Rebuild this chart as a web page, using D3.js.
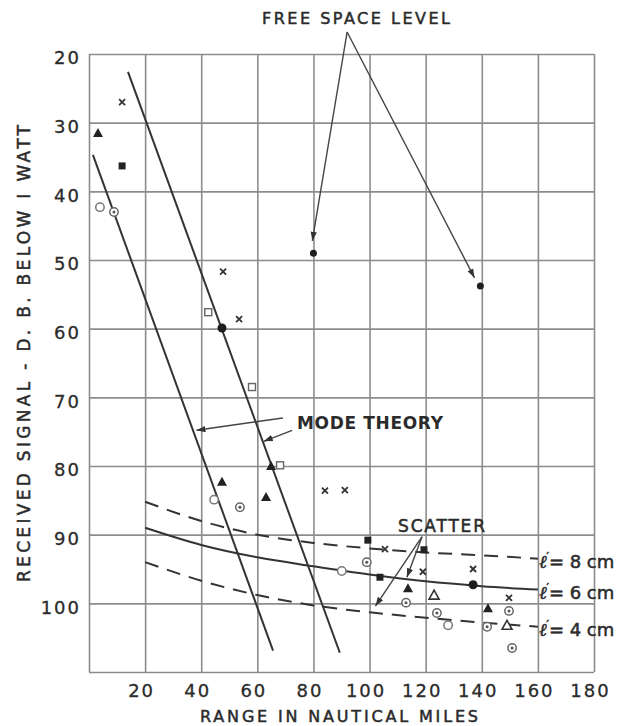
<!DOCTYPE html>
<html>
<head>
<meta charset="utf-8">
<script src="https://cdn.jsdelivr.net/npm/d3@7"></script>
<style>
  html, body { margin: 0; padding: 0; background: #fff; }
  svg { display: block; }
  text { font-family: "DejaVu Sans", sans-serif; fill: #2b2b2b; }
</style>
</head>
<body>
<svg id="chart" width="619" height="726"></svg>
<script>
// ---------- data ----------
const xTicks = [20, 40, 60, 80, 100, 120, 140, 160, 180];
const yTicks = [20, 30, 40, 50, 60, 70, 80, 90, 100];
const xGrid = [0, 20, 40, 60, 80, 100, 120, 140, 160, 180];
const yGrid = [20, 30, 40, 50, 60, 70, 80, 90, 100, 110];

// Mode theory lines (range, dB)
const modeTheoryA = [[1.4, 34.7], [65.6, 106.9]];
const modeTheoryB = [[13.9, 22.6], [89.4, 107.2]];

// Scatter curves
const scatterRange = [20, 40, 60, 80, 100, 120, 140, 160];
const scatter8cm = [85.2, 88.0, 90.0, 91.2, 92.0, 92.6, 93.0, 93.5];
const scatter6cm = [89.0, 91.5, 93.3, 94.6, 95.8, 96.8, 97.5, 98.0];
const scatter4cm = [94.0, 96.7, 98.8, 100.3, 101.3, 102.1, 102.8, 103.4];

// Measured points by symbol
const crossPts = [[11.8, 27.0], [47.8, 51.7], [53.5, 58.6], [84.1, 83.6], [91.2, 83.5], [105.5, 92.1], [119.0, 95.4], [136.9, 95.0], [149.7, 99.2]];
const filledTrianglePts = [[3.2, 31.5], [64.9, 80.0], [47.4, 82.3], [63.1, 84.5], [113.7, 97.8], [142.2, 100.7]];
const openTrianglePts = [[123.0, 98.8], [149.0, 103.2]];
const openCirclePts = [[3.9, 42.3], [44.6, 84.9], [90.1, 95.3], [128.0, 103.2]];
const dotCirclePts = [[8.9, 43.0], [53.8, 86.0], [99.0, 94.0], [113.0, 99.9], [124.0, 101.4], [141.9, 103.4], [150.8, 106.5], [149.7, 101.1]];
const openSquarePts = [[42.5, 57.6], [58.1, 68.5], [68.1, 79.9]];
const filledSquarePts = [[11.8, 36.3], [99.4, 90.8], [103.7, 96.2], [119.4, 92.2]];
const filledCirclePts = [[47.4, 59.9], [136.9, 97.3]];
const freeSpacePts = [[80, 49.0], [139.5, 53.8]];

// Annotations (data coordinates)
const freeSpaceArrows = [[[92.0, 16.8], [79.6, 47.2]], [[92.0, 16.8], [137.4, 52.6]]];
const modeArrows = [[[69.1, 73.0], [38.3, 74.8]], [[72.4, 74.8], [62.3, 76.4]]];
const scatterArrows = [[[118.7, 90.3], [102.1, 100.4]], [[118.7, 90.3], [113.3, 96.2]]];
const curveLabels = ["= 8 cm", "= 6 cm", "= 4 cm"];

// ---------- drawing ----------
const svg = d3.select("#chart");
const x = d3.scaleLinear().domain([0, 180]).range([89, 594]);
const y = d3.scaleLinear().domain([20, 110]).range([54, 672]);
const ink = "#333";
const gridC = "#8c8c8c";

const defs = svg.append("defs");
defs.append("marker").attr("id", "arr").attr("viewBox", "0 0 10 10")
  .attr("refX", 10).attr("refY", 5).attr("markerWidth", 9).attr("markerHeight", 9)
  .attr("markerUnits", "userSpaceOnUse").attr("orient", "auto")
  .append("path").attr("d", "M0,1.5 L10,5 L0,8.5 Z").attr("fill", "#333");

// grid
const gx = svg.append("g").attr("transform", `translate(0,${y(110)})`)
  .call(d3.axisBottom(x).tickValues(xGrid).tickSize(-(y(110) - y(20))).tickFormat(""));
const gy = svg.append("g").attr("transform", `translate(${x(0)},0)`)
  .call(d3.axisLeft(y).tickValues(yGrid).tickSize(-(x(180) - x(0))).tickFormat(""));
[gx, gy].forEach(g => {
  g.select(".domain").remove();
  g.selectAll("line").attr("stroke", gridC).attr("stroke-width", 1.6);
});

// tick labels
const ax = svg.append("g").attr("transform", `translate(0,${y(110)})`)
  .call(d3.axisBottom(x).tickValues(xTicks).tickSize(0).tickPadding(0));
ax.select(".domain").remove();
ax.selectAll("text").attr("font-size", 18).attr("letter-spacing", 2)
  .attr("dy", 0).attr("y", 25).attr("dx", -4).attr("fill", "#2b2b2b")
  .attr("stroke", "#2b2b2b").attr("stroke-width", 0.3)
  .attr("font-family", "DejaVu Sans, sans-serif");

const ay = svg.append("g").attr("transform", `translate(${x(0)},0)`)
  .call(d3.axisLeft(y).tickValues(yTicks).tickSize(0).tickPadding(8));
ay.select(".domain").remove();
ay.selectAll("text").attr("font-size", 18).attr("letter-spacing", 2)
  .attr("dy", "0.55em").attr("fill", "#2b2b2b")
  .attr("stroke", "#2b2b2b").attr("stroke-width", 0.3)
  .attr("font-family", "DejaVu Sans, sans-serif");

const heavy = sel => sel.attr("stroke", "#2b2b2b").attr("stroke-width", 0.5);

// axis titles
heavy(svg.append("text").attr("x", 200).attr("y", 722).attr("font-size", 16)
  .attr("textLength", 278).attr("lengthAdjust", "spacing")
  .text("RANGE IN NAUTICAL MILES"));
heavy(svg.append("text").attr("transform", "translate(30,582) rotate(-90)")
  .attr("font-size", 17).attr("textLength", 457).attr("lengthAdjust", "spacing")
  .text("RECEIVED SIGNAL - D. B. BELOW I WATT"));

// mode theory lines
const line = d3.line().x(d => x(d[0])).y(d => y(d[1]));
[modeTheoryA, modeTheoryB].forEach(d => {
  svg.append("path").attr("d", line(d)).attr("fill", "none")
    .attr("stroke", ink).attr("stroke-width", 2);
});

// scatter curves
const curve = d3.line().x(d => x(d[0])).y(d => y(d[1])).curve(d3.curveMonotoneX);
const sets = [
  { v: scatter8cm, dash: "14,9" },
  { v: scatter6cm, dash: null },
  { v: scatter4cm, dash: "14,9" }
];
sets.forEach((s, i) => {
  const pts = scatterRange.map((r, j) => [r, s.v[j]]);
  const p = svg.append("path").attr("d", curve(pts)).attr("fill", "none")
    .attr("stroke", ink).attr("stroke-width", 2);
  if (s.dash) p.attr("stroke-dasharray", s.dash);
  const t = svg.append("text").attr("x", x(160) + 1)
    .attr("y", y(s.v[s.v.length - 1]) + 9)
    .attr("font-size", 18);
  heavy(t);
  t.append("tspan").attr("font-style", "italic").attr("font-family", "DejaVu Serif, serif").text("\u2113");
  t.append("tspan").attr("font-size", 11).attr("dy", -8).text("\u2032");
  t.append("tspan").attr("dy", 8).text(curveLabels[i]);
});

// arrows
[...freeSpaceArrows, ...modeArrows, ...scatterArrows].forEach(a => {
  svg.append("path").attr("d", line(a)).attr("fill", "none")
    .attr("stroke", "#444").attr("stroke-width", 1.4).attr("marker-end", "url(#arr)");
});

// annotation texts
heavy(svg.append("text").attr("x", 262).attr("y", 24).attr("font-size", 16)
  .attr("textLength", 188).attr("lengthAdjust", "spacing").text("FREE SPACE LEVEL"));
svg.append("text").attr("x", 297).attr("y", 429).attr("font-size", 17).attr("font-weight", "bold")
  .attr("textLength", 146).attr("lengthAdjust", "spacing").text("MODE THEORY");
heavy(svg.append("text").attr("x", 398).attr("y", 532).attr("font-size", 17)
  .attr("textLength", 87).attr("lengthAdjust", "spacing").text("SCATTER"));

// markers
const g = svg.append("g");
g.selectAll(".cr").data(crossPts).join("path")
  .attr("transform", d => `translate(${x(d[0])},${y(d[1])})`)
  .attr("d", "M-3,-3L3,3M-3,3L3,-3").attr("stroke", "#333").attr("stroke-width", 1.8);
g.selectAll(".ft").data(filledTrianglePts).join("path")
  .attr("transform", d => `translate(${x(d[0])},${y(d[1])})`)
  .attr("d", "M0,-5L5,4L-5,4Z").attr("fill", "#222");
g.selectAll(".ot").data(openTrianglePts).join("path")
  .attr("transform", d => `translate(${x(d[0])},${y(d[1])})`)
  .attr("d", "M0,-5L5,4L-5,4Z").attr("fill", "#fff").attr("stroke", "#333").attr("stroke-width", 1.6);
g.selectAll(".oc").data(openCirclePts).join("circle")
  .attr("cx", d => x(d[0])).attr("cy", d => y(d[1])).attr("r", 4.2)
  .attr("fill", "#fff").attr("stroke", "#777").attr("stroke-width", 1.5);
g.selectAll(".dc").data(dotCirclePts).join("circle")
  .attr("cx", d => x(d[0])).attr("cy", d => y(d[1])).attr("r", 4.2)
  .attr("fill", "#fff").attr("stroke", "#666").attr("stroke-width", 1.5);
g.selectAll(".dcd").data(dotCirclePts).join("circle")
  .attr("cx", d => x(d[0])).attr("cy", d => y(d[1])).attr("r", 1.5).attr("fill", "#555");
g.selectAll(".os").data(openSquarePts).join("rect")
  .attr("x", d => x(d[0]) - 3.5).attr("y", d => y(d[1]) - 3.5).attr("width", 7).attr("height", 7)
  .attr("fill", "#fff").attr("stroke", "#666").attr("stroke-width", 1.4);
g.selectAll(".fs").data(filledSquarePts).join("rect")
  .attr("x", d => x(d[0]) - 3.5).attr("y", d => y(d[1]) - 3.5).attr("width", 7).attr("height", 7)
  .attr("fill", "#222");
g.selectAll(".fc").data(filledCirclePts).join("circle")
  .attr("cx", d => x(d[0])).attr("cy", d => y(d[1])).attr("r", 4.5).attr("fill", "#1e1e1e");
g.selectAll(".fsp").data(freeSpacePts).join("circle")
  .attr("cx", d => x(d[0])).attr("cy", d => y(d[1])).attr("r", 3.5).attr("fill", "#1e1e1e");
</script>
</body>
</html>
